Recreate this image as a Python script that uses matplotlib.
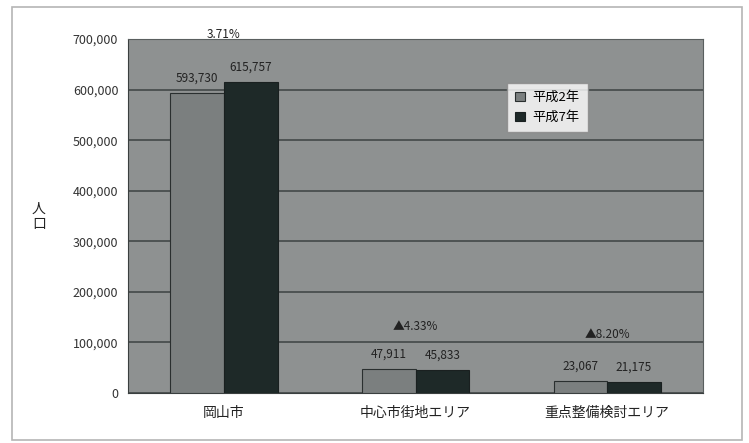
import matplotlib.pyplot as plt
from matplotlib.patches import Rectangle
from matplotlib.ticker import FuncFormatter, MultipleLocator
import numpy as np

plt.rcParams["font.family"] = ["Noto Sans CJK JP", "DejaVu Sans"]

# 人口の推移 (平成2年 / 平成7年)
areas = ["岡山市", "中心市街地エリア", "重点整備検討エリア"]
pop_h2 = [593730, 47911, 23067]
pop_h7 = [615757, 45833, 21175]
change = ["3.71%", "▲4.33%", "▲8.20%"]
series_names = ["平成2年", "平成7年"]

W, H = 749, 443
fig = plt.figure(figsize=(W / 100, H / 100), dpi=100)
fig.patch.set_facecolor("white")

# frame around the whole chart
fig.patches.append(Rectangle((12 / W, 3 / H), 730 / W, 433 / H,
                             transform=fig.transFigure, fill=False,
                             edgecolor="#b5b5b5", linewidth=1.2))

ax = fig.add_axes([128 / W, 1 - 393 / H, 575 / W, 354 / H])
ax.set_facecolor("#8e9191")

x = np.arange(len(areas))
bw = 0.28
light, dark = "#7b7f7f", "#1e2928"
ax.bar(x - bw / 2, pop_h2, bw, color=light, edgecolor="#2a2f2f",
       linewidth=0.8, label=series_names[0], zorder=3)
ax.bar(x + bw / 2, pop_h7, bw, color=dark, edgecolor="#1a2020",
       linewidth=0.8, label=series_names[1], zorder=3)

ax.set_ylim(0, 700000)
ax.set_xlim(-0.5, len(areas) - 0.5)
ax.yaxis.set_major_locator(MultipleLocator(100000))
ax.yaxis.set_major_formatter(FuncFormatter(lambda v, _: f"{int(v):,}"))
ax.yaxis.grid(True, color="#3d4242", linewidth=1.1, zorder=1)
ax.set_xticks(x)
ax.set_xticklabels(areas, fontsize=10, color="#222222")
ax.tick_params(axis="y", labelsize=9, colors="#333333", length=0, pad=7)
ax.tick_params(axis="x", length=0, pad=9)
for side in ["top", "right"]:
    ax.spines[side].set_color("#5a5f5f")
ax.spines["left"].set_color("#3a3f3f")
ax.spines["bottom"].set_color("#3a3f3f")

ax.set_ylabel("人\n口", rotation=0, fontsize=10, color="#222222",
              va="center", linespacing=1.1)
ax.yaxis.set_label_coords(-0.155, 0.5)

# value labels above each bar, change rate above each group
for i in range(len(areas)):
    ax.annotate(f"{pop_h2[i]:,}", (x[i] - bw / 2, pop_h2[i]),
                xytext=(0, 6), textcoords="offset points", ha="center",
                va="bottom", fontsize=8.5, color="#222222", zorder=5)
    ax.annotate(f"{pop_h7[i]:,}", (x[i] + bw / 2, pop_h7[i]),
                xytext=(0, 6), textcoords="offset points", ha="center",
                va="bottom", fontsize=8.5, color="#222222", zorder=5)
    top = max(pop_h2[i], pop_h7[i])
    off = 29 if i == 0 else 26 if i == 1 else 29
    ax.annotate(change[i], (x[i], top), xytext=(0, off),
                textcoords="offset points", ha="center", va="bottom",
                fontsize=8.5, color="#222222", annotation_clip=False, zorder=5)

leg = ax.legend(loc="upper left", bbox_to_anchor=(0.66, 0.875), fontsize=9.5,
                frameon=True, fancybox=False, handlelength=0.7,
                handleheight=0.7, handletextpad=0.6, borderpad=0.6,
                labelspacing=0.5, borderaxespad=0)
leg.get_frame().set_facecolor("white")
leg.get_frame().set_edgecolor("#888888")

fig.savefig("out.png", dpi=100)
